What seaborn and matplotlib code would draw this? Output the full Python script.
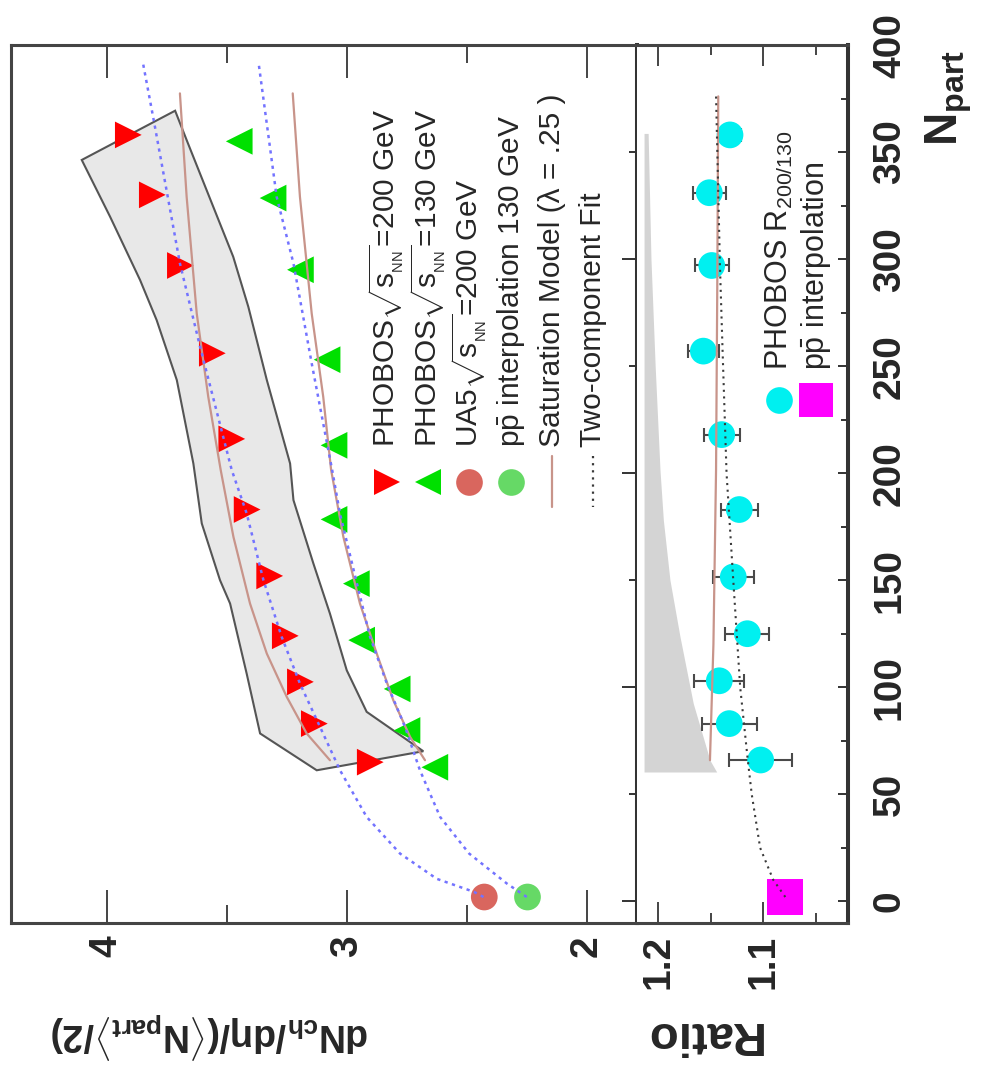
import numpy as np
import matplotlib
matplotlib.use("Agg")
import matplotlib.pyplot as plt
import seaborn as sns
from matplotlib.lines import Line2D
from matplotlib.ticker import FixedLocator, MultipleLocator

# ---------------- data ----------------
# PHOBOS sqrt(sNN)=200 GeV
npart_200 = [358, 330, 297, 256, 216, 183, 152, 124, 102.5, 83, 65]
dn_200 = [3.910, 3.810, 3.693, 3.560, 3.479, 3.415, 3.321, 3.256, 3.193, 3.135, 2.902]
# PHOBOS sqrt(sNN)=130 GeV
npart_130 = [355, 328.5, 295, 253, 213, 178.4, 148.4, 122, 99.2, 79.8, 62.6]
dn_130 = [3.448, 3.307, 3.193, 3.082, 3.053, 3.053, 2.960, 2.938, 2.790, 2.749, 2.633]
# pp / ppbar references
pp_npart = [2]
ua5_dn_200 = [2.427]
ppbar_dn_130 = [2.247]

# systematic band (200 GeV), polygon vertices
band_dn = [4.104, 3.986, 3.861, 3.792, 3.708, 3.639, 3.604, 3.528, 3.486, 3.417, 3.361, 3.125,
           2.681, 2.917, 3.000, 3.070, 3.139, 3.222, 3.236, 3.333, 3.410, 3.473, 3.556, 3.667, 3.715]
band_np = [346.3, 319.8, 290.2, 271.5, 243.5, 204.5, 176.5, 150.0, 139.1, 106.4, 78.4, 61.2,
           70.1, 88.5, 107.9, 134.4, 157.8, 187.4, 204.5, 243.5, 277.7, 301.1, 324.4, 355.6, 369.3]

# two-component fit
tc200_np = [2, 4.4, 10.5, 22.3, 39.4, 61.2, 81.4, 101.7, 123.5, 150, 181.2, 201.4, 259, 298, 364.2, 392.2]
tc200_dn = [2.43, 2.47, 2.625, 2.778, 2.917, 3.028, 3.111, 3.195, 3.271, 3.347, 3.417, 3.479, 3.611, 3.695, 3.803, 3.850]
tc130_np = [2, 8.3, 22.3, 39.4, 61.2, 81.4, 101.8, 123.5, 148.6, 181, 201, 251.3, 298, 329.1, 392.2]
tc130_dn = [2.25, 2.333, 2.49, 2.611, 2.695, 2.757, 2.833, 2.903, 2.958, 3.028, 3.06, 3.146, 3.222, 3.292, 3.368]

# saturation model
sat200_np = [65.9, 78.4, 95.5, 115.7, 139.1, 170.2, 201.4, 235.7, 274.6, 329.1, 377.4]
sat200_dn = [3.070, 3.167, 3.250, 3.333, 3.403, 3.472, 3.525, 3.577, 3.625, 3.667, 3.695]
sat130_np = [65.9, 76.8, 93.9, 115.7, 139.1, 170.2, 201.4, 235.7, 274.6, 329.1, 377.4]
sat130_dn = [2.674, 2.736, 2.806, 2.875, 2.945, 3.014, 3.065, 3.098, 3.146, 3.195, 3.225]

# ratio panel
ratio_np = [358, 331, 297, 257, 218, 183, 151.5, 125, 103, 83, 66]
ratio_val = [1.1317, 1.1514, 1.1491, 1.1571, 1.1396, 1.1229, 1.1286, 1.1152, 1.1419, 1.1324, 1.1025]
ratio_err = [0.010, 0.016, 0.016, 0.0145, 0.0173, 0.0175, 0.0194, 0.0211, 0.0238, 0.0262, 0.0302]
pp_ratio = [1.0793]

rband_np = [60.4, 65.9, 92.4, 123.5, 150, 178, 201.4, 250, 300, 358.7]
rband_lo = [1.1444, 1.1508, 1.1667, 1.1793, 1.1889, 1.1952, 1.1984, 1.2030, 1.2070, 1.2097]
rband_hi = 1.2136

satr_np = [65.9, 120, 201.4, 290, 376]
satr_val = [1.1508, 1.1475, 1.1450, 1.1438, 1.1429]
tcr_np = [2, 10, 25, 50, 67, 100, 150, 200, 256, 297, 376]
tcr_val = [1.079, 1.0905, 1.103, 1.111, 1.115, 1.122, 1.1286, 1.135, 1.1387, 1.1413, 1.145]

# tick labels
dn_ticks = [2, 3, 4]
ratio_ticks = [1.1, 1.2]
npart_ticks = list(range(0, 401, 50))

# ---------------- style ----------------
sns.set_theme(style="white")
plt.rcParams['font.family'] = ['Liberation Sans', 'DejaVu Sans']
plt.rcParams['mathtext.fontset'] = 'custom'
plt.rcParams['mathtext.rm'] = 'Liberation Sans'
plt.rcParams['mathtext.it'] = 'Liberation Sans:italic'
plt.rcParams['mathtext.bf'] = 'Liberation Sans:bold'
plt.rcParams['mathtext.sf'] = 'Liberation Sans'

RED = '#ff0000'
GREEN = '#00e000'
UA5C = '#d9665e'
PPC = '#66d966'
CYAN = '#00f0f0'
MAG = '#ff00ff'
BROWN = '#c8948a'
BLUE = '#7373ff'
FRAME = '#444444'

W, H = 982, 1071
fig = plt.figure(figsize=(W / 100, H / 100), dpi=100)


def fx(px):
    return px / W


def fy(py):
    return 1 - py / H


ax1 = fig.add_axes([fx(10.7), fy(922.7), fx(636.7) - fx(10.7), fy(45) - fy(922.7)])
ax2 = fig.add_axes([fx(636.7), fy(922.7), fx(848.3) - fx(636.7), fy(45) - fy(922.7)])

# ---------------- main panel ----------------
ax1.fill(band_dn, band_np, facecolor='#e8e8e8', edgecolor='#555555', linewidth=1.5, zorder=1)

sns.scatterplot(x=dn_200, y=npart_200, marker='>', s=370, color=RED, edgecolor='none',
                linewidth=0, ax=ax1, legend=False, zorder=3)
sns.scatterplot(x=dn_130, y=npart_130, marker='<', s=370, color=GREEN, edgecolor='none',
                linewidth=0, ax=ax1, legend=False, zorder=3)
sns.scatterplot(x=ua5_dn_200, y=pp_npart, marker='o', s=370, color=UA5C, edgecolor='none',
                linewidth=0, ax=ax1, legend=False, zorder=3)
sns.scatterplot(x=ppbar_dn_130, y=pp_npart, marker='o', s=370, color=PPC, edgecolor='none',
                linewidth=0, ax=ax1, legend=False, zorder=3)

for xs, ys in ((sat200_dn, sat200_np), (sat130_dn, sat130_np)):
    sns.lineplot(x=xs, y=ys, sort=False, estimator=None, color=BROWN, linewidth=1.6,
                 ax=ax1, legend=False, zorder=4)
for xs, ys in ((tc200_dn, tc200_np), (tc130_dn, tc130_np)):
    sns.lineplot(x=xs, y=ys, sort=False, estimator=None, color=BLUE, linewidth=1.8,
                 linestyle=(0, (1.3, 1.8)), ax=ax1, legend=False, zorder=4)

ax1.set_xlim(4.4, 1.792)
ax1.set_ylim(-10, 400)

# ---------------- ratio panel ----------------
ax2.fill_betweenx(rband_np, rband_hi, rband_lo, color='#d4d4d4', linewidth=0, zorder=1)
ax2.errorbar(ratio_val, ratio_np, xerr=ratio_err, fmt='none', ecolor='#4a4a4a',
             elinewidth=1.5, capsize=5, capthick=1.5, zorder=2)
sns.scatterplot(x=ratio_val, y=ratio_np, marker='o', s=370, color=CYAN, edgecolor='none',
                linewidth=0, ax=ax2, legend=False, zorder=3)
sns.scatterplot(x=pp_ratio, y=pp_npart, marker='s', s=640, color=MAG, edgecolor='none',
                linewidth=0, ax=ax2, legend=False, zorder=3)
sns.lineplot(x=satr_val, y=satr_np, sort=False, estimator=None, color=BROWN, linewidth=1.6,
             ax=ax2, legend=False, zorder=4)
sns.lineplot(x=tcr_val, y=tcr_np, sort=False, estimator=None, color='#3a3a3a', linewidth=1.5,
             linestyle=(0, (1, 2.2)), ax=ax2, legend=False, zorder=4)
ax2.set_xlim(1.2206, 1.019)
ax2.set_ylim(-10, 400)

# ---------------- axes decoration ----------------
for ax in (ax1, ax2):
    ax.set_xlabel('')
    ax.set_ylabel('')
    ax.grid(False)
    ax.set_facecolor('white')
    for s in ax.spines.values():
        s.set_color(FRAME)
        s.set_linewidth(2.2)
ax1.spines['right'].set_linewidth(2.9)
ax1.spines['right'].set_color('#333333')
ax2.spines['right'].set_linewidth(2.9)
ax2.spines['right'].set_color('#333333')
ax2.spines['left'].set_visible(False)

# main panel ticks
ax1.xaxis.set_major_locator(FixedLocator(dn_ticks))
ax1.xaxis.set_minor_locator(FixedLocator([2.5, 3.5]))
ax1.set_xticklabels([str(t) for t in dn_ticks])
ax1.tick_params(axis='x', which='both', direction='in', top=True, bottom=True,
                labeltop=False, labelbottom=True, color=FRAME, width=1.4)
ax1.tick_params(axis='x', which='major', length=24, labelsize=28, pad=9, labelrotation=90)
ax1.tick_params(axis='x', which='minor', length=13)
ax1.yaxis.set_major_locator(MultipleLocator(100))
ax1.yaxis.set_minor_locator(MultipleLocator(50))
ax1.tick_params(axis='y', which='both', direction='in', left=False, right=True,
                labelleft=False, labelright=False, color='#333333', width=1.4)
ax1.tick_params(axis='y', which='major', length=11)
ax1.tick_params(axis='y', which='minor', length=6)

# ratio panel ticks
ax2.xaxis.set_major_locator(FixedLocator(ratio_ticks))
ax2.xaxis.set_minor_locator(FixedLocator([1.05, 1.15]))
ax2.set_xticklabels([f'{t:.1f}' for t in ratio_ticks])
ax2.tick_params(axis='x', which='both', direction='in', top=True, bottom=True,
                labeltop=False, labelbottom=True, color=FRAME, width=1.4)
ax2.tick_params(axis='x', which='major', length=15, labelsize=28, pad=9, labelrotation=90)
ax2.tick_params(axis='x', which='minor', length=7)
ax2.yaxis.set_major_locator(FixedLocator(npart_ticks))
ax2.yaxis.set_minor_locator(MultipleLocator(25))
ax2.set_yticklabels([str(t) for t in npart_ticks])
ax2.tick_params(axis='y', which='both', direction='in', left=False, right=True,
                labelleft=False, labelright=True, color='#333333', width=1.4)
ax2.tick_params(axis='y', which='major', length=7, labelsize=28, pad=17, labelrotation=90)
ax2.tick_params(axis='y', which='minor', length=5)

for lab in ax1.get_xticklabels() + ax2.get_xticklabels():
    lab.set_fontweight('bold')
for lab in ax2.get_yticklabels():
    lab.set_fontweight('bold')
    lab.set_va('center')

# ---------------- axis titles ----------------
fig.text(fx(369), fy(1023), r'$\mathbf{dN_{ch}/d\eta/(\langle N_{part}\rangle/2)}$',
         rotation=180, rotation_mode='anchor', ha='left', va='baseline', fontsize=27)
fig.text(fx(761), fy(1022), 'Ratio', rotation=180, rotation_mode='anchor', ha='left',
         va='baseline', fontsize=34, fontweight='bold')
fig.text(fx(958), fy(50), r'$\mathbf{N}_{\mathbf{part}}$', rotation=90, rotation_mode='anchor',
         ha='right', va='baseline', fontsize=33)

# ---------------- legends (manual, rotated) ----------------
main_labels = [r'PHOBOS$\sqrt{\mathrm{s}_{_{\mathrm{NN}}}}$=200 GeV',
               r'PHOBOS$\sqrt{\mathrm{s}_{_{\mathrm{NN}}}}$=130 GeV',
               r'UA5$\sqrt{\mathrm{s}_{_{\mathrm{NN}}}}$=200 GeV',
               r'p$\bar{\mathrm{p}}$ interpolation 130 GeV',
               'Saturation Model (λ = .25 )',
               'Two-component Fit']
main_keys = [dict(marker='>', color=RED), dict(marker='<', color=GREEN),
             dict(marker='o', color=UA5C), dict(marker='o', color=PPC),
             dict(line=BROWN, ls='-'), dict(line='#3a3a3a', ls=(0, (1, 2.2)))]
lx0, ldx, lmy, lty = 386.7, 41.3, 481.7, 446.7
for i, (lab, key) in enumerate(zip(main_labels, main_keys)):
    x = lx0 + i * ldx
    if 'marker' in key:
        fig.add_artist(Line2D([fx(x)], [fy(lmy)], marker=key['marker'], markersize=19.2,
                              color=key['color'], markeredgewidth=0, linestyle='none',
                              transform=fig.transFigure))
    else:
        fig.add_artist(Line2D([fx(x), fx(x)], [fy(lmy - 26), fy(lmy + 25)], color=key['line'],
                              linestyle=key['ls'], linewidth=1.6, transform=fig.transFigure))
    fig.text(fx(x), fy(lty), lab, rotation=90, rotation_mode='anchor', ha='left', va='center',
             fontsize=21.5)

ratio_labels = [r'PHOBOS R$_{200/130}$', r'p$\bar{\mathrm{p}}$ interpolation']
ratio_keys = [dict(marker='o', color=CYAN, ms=19.2), dict(marker='s', color=MAG, ms=25)]
rx0, rdx, rmy, rty = 779.3, 36.7, 400, 370
for i, (lab, key) in enumerate(zip(ratio_labels, ratio_keys)):
    x = rx0 + i * rdx
    fig.add_artist(Line2D([fx(x)], [fy(rmy)], marker=key['marker'], markersize=key['ms'],
                          color=key['color'], markeredgewidth=0, linestyle='none',
                          transform=fig.transFigure))
    fig.text(fx(x), fy(rty), lab, rotation=90, rotation_mode='anchor', ha='left', va='center',
             fontsize=22)

fig.savefig('out.png', dpi=100, facecolor='white')
